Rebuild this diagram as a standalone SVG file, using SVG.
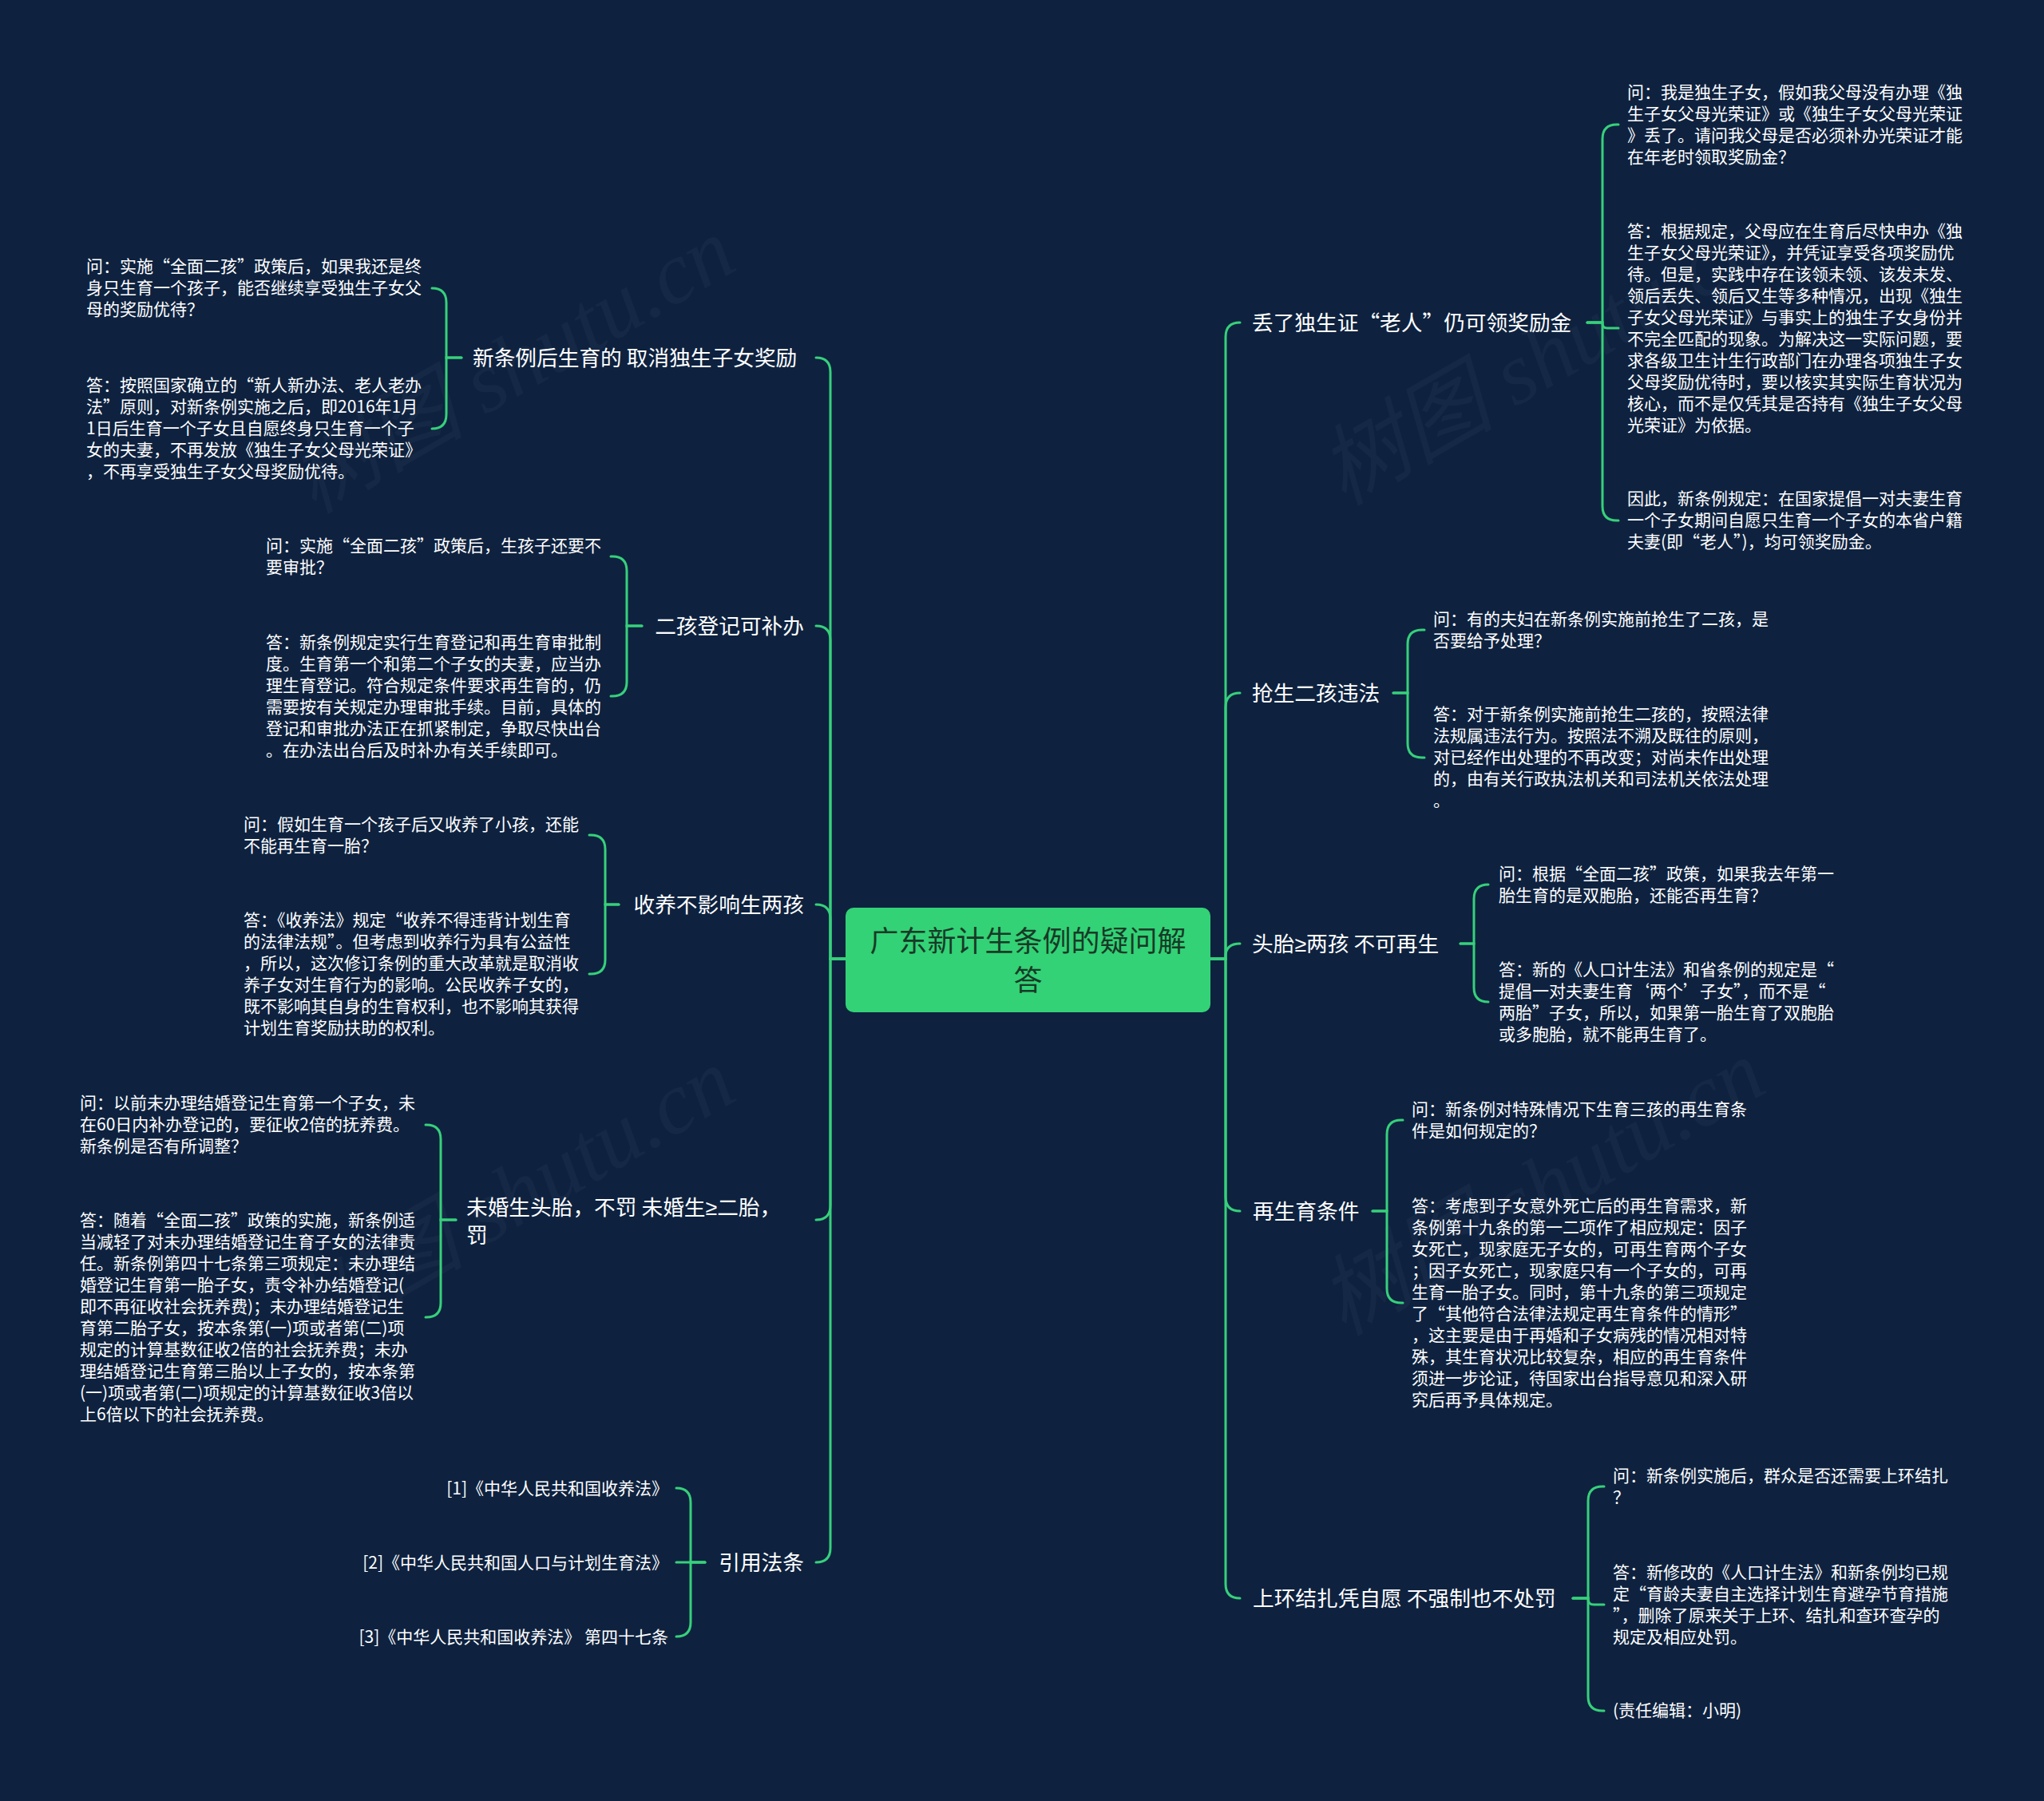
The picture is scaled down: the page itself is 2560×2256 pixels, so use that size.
<svg xmlns="http://www.w3.org/2000/svg" width="2560" height="2256" viewBox="0 0 2560 2256">
<style>
text{font-family:"Noto Sans CJK SC","Noto Sans",sans-serif;fill:#ffffff}
.leaf{font-size:21px}
.lbl{font-size:26.7px}
.rt{font-size:36px;fill:#173a26;text-anchor:middle}
.end{text-anchor:end}
.ge{font-family:"Liberation Sans","DejaVu Sans",sans-serif}
.conn path{fill:none;stroke:#37d07b;stroke-width:3;stroke-linecap:round}
.wm{font-family:"Liberation Serif","Noto Sans CJK SC",serif;font-style:italic;font-size:110px;fill:#ffffff;fill-opacity:0.03}
</style>
<rect x="0" y="0" width="2560" height="2256" fill="#0e223f"/>
<g id="watermarks">
<text class="wm" x="660" y="490" text-anchor="middle" transform="rotate(-30 660 490)">树图 shutu.cn</text>
<text class="wm" x="1950" y="480" text-anchor="middle" transform="rotate(-30 1950 480)">树图 shutu.cn</text>
<text class="wm" x="660" y="1530" text-anchor="middle" transform="rotate(-30 660 1530)">树图 shutu.cn</text>
<text class="wm" x="1950" y="1520" text-anchor="middle" transform="rotate(-30 1950 1520)">树图 shutu.cn</text>
</g>
<g class="conn" id="connectors">
<path d="M1516 1201 H1535 V422 Q1535 404 1553 404"/>
<path d="M1516 1201 H1535 V886 Q1535 868 1553 868"/>
<path d="M1516 1201 H1535 V1198 Q1535 1182 1553 1182"/>
<path d="M1516 1201 H1535 V1499 Q1535 1517 1553 1517"/>
<path d="M1516 1201 H1535 V1984 Q1535 2002 1553 2002"/>
<path d="M1059 1201 H1040 V466 Q1040 448 1022 448"/>
<path d="M1059 1201 H1040 V802 Q1040 784 1022 784"/>
<path d="M1059 1201 H1040 V1151 Q1040 1133 1022 1133"/>
<path d="M1059 1201 H1040 V1510 Q1040 1528 1022 1528"/>
<path d="M1059 1201 H1040 V1939 Q1040 1957 1022 1957"/>
<path d="M1988 404 H2007 V174 Q2007 156 2025 156 H2027"/>
<path d="M1988 404 H2007 V405 Q2007 411 2013 411 H2027"/>
<path d="M1988 404 H2007 V634 Q2007 652 2025 652 H2027"/>
<path d="M1745 868 H1763 V807 Q1763 789 1781 789 H1784"/>
<path d="M1745 868 H1763 V931 Q1763 949 1781 949 H1784"/>
<path d="M1829 1182 H1846 V1126 Q1846 1108 1864 1108"/>
<path d="M1829 1182 H1846 V1237 Q1846 1255 1864 1255"/>
<path d="M1719 1517 H1737 V1421 Q1737 1403 1755 1403 H1757"/>
<path d="M1719 1517 H1737 V1614 Q1737 1632 1755 1632 H1757"/>
<path d="M1970 2002 H1989 V1880 Q1989 1862 2007 1862 H2009"/>
<path d="M1970 2002 H1989 V2003 Q1989 2010 1996 2010 H2009"/>
<path d="M1970 2002 H1989 V2125 Q1989 2143 2007 2143 H2009"/>
<path d="M578 448 H559 V379 Q559 361 541 361"/>
<path d="M578 448 H559 V519 Q559 537 541 537"/>
<path d="M804 784 H785 V715 Q785 697 767 697 H765"/>
<path d="M804 784 H785 V854 Q785 872 767 872 H765"/>
<path d="M775 1133 H758 V1064 Q758 1046 740 1046 H738"/>
<path d="M775 1133 H758 V1202 Q758 1220 740 1220 H738"/>
<path d="M571 1528 H552 V1427 Q552 1409 534 1409 H533"/>
<path d="M571 1528 H552 V1632 Q552 1650 534 1650 H533"/>
<path d="M883 1957 H865 V1882 Q865 1864 847 1864"/>
<path d="M883 1957 H847"/>
<path d="M883 1957 H865 V2032 Q865 2050 847 2050"/>
</g>
<g id="root">
<rect x="1059" y="1137" width="457" height="131" rx="10" fill="#33d276"/>
<text class="rt" x="1287.5" y="1192">广东新计生条例的疑问解</text>
<text class="rt" x="1287.5" y="1241">答</text>
</g>
<g id="r1"><text class="lbl" x="1568" y="414">丢了独生证“老人”仍可领奖励金</text></g>
<g id="r1q"><text class="leaf" x="2038" y="123"><tspan x="2038">问：我是独生子女，假如我父母没有办理《独</tspan><tspan x="2038" dy="27">生子女父母光荣证》或《独生子女父母光荣证</tspan><tspan x="2038" dy="27">》丢了。请问我父母是否必须补办光荣证才能</tspan><tspan x="2038" dy="27">在年老时领取奖励金？</tspan></text></g>
<g id="r1a"><text class="leaf" x="2038" y="297"><tspan x="2038">答：根据规定，父母应在生育后尽快申办《独</tspan><tspan x="2038" dy="27">生子女父母光荣证》，并凭证享受各项奖励优</tspan><tspan x="2038" dy="27">待。但是，实践中存在该领未领、该发未发、</tspan><tspan x="2038" dy="27">领后丢失、领后又生等多种情况，出现《独生</tspan><tspan x="2038" dy="27">子女父母光荣证》与事实上的独生子女身份并</tspan><tspan x="2038" dy="27">不完全匹配的现象。为解决这一实际问题，要</tspan><tspan x="2038" dy="27">求各级卫生计生行政部门在办理各项独生子女</tspan><tspan x="2038" dy="27">父母奖励优待时，要以核实其实际生育状况为</tspan><tspan x="2038" dy="27">核心，而不是仅凭其是否持有《独生子女父母</tspan><tspan x="2038" dy="27">光荣证》为依据。</tspan></text></g>
<g id="r1c"><text class="leaf" x="2038" y="632"><tspan x="2038">因此，新条例规定：在国家提倡一对夫妻生育</tspan><tspan x="2038" dy="27">一个子女期间自愿只生育一个子女的本省户籍</tspan><tspan x="2038" dy="27">夫妻(即“老人”)，均可领奖励金。</tspan></text></g>
<g id="r2"><text class="lbl" x="1568" y="878">抢生二孩违法</text></g>
<g id="r2q"><text class="leaf" x="1795" y="783"><tspan x="1795">问：有的夫妇在新条例实施前抢生了二孩，是</tspan><tspan x="1795" dy="27">否要给予处理？</tspan></text></g>
<g id="r2a"><text class="leaf" x="1795" y="902"><tspan x="1795">答：对于新条例实施前抢生二孩的，按照法律</tspan><tspan x="1795" dy="27">法规属违法行为。按照法不溯及既往的原则，</tspan><tspan x="1795" dy="27">对已经作出处理的不再改变；对尚未作出处理</tspan><tspan x="1795" dy="27">的，由有关行政执法机关和司法机关依法处理</tspan><tspan x="1795" dy="27">。</tspan></text></g>
<g id="r3"><text class="lbl" x="1568" y="1192">头胎<tspan class="ge">≥</tspan>两孩 不可再生</text></g>
<g id="r3q"><text class="leaf" x="1877" y="1102"><tspan x="1877">问：根据“全面二孩”政策，如果我去年第一</tspan><tspan x="1877" dy="27">胎生育的是双胞胎，还能否再生育？</tspan></text></g>
<g id="r3a"><text class="leaf" x="1877" y="1222"><tspan x="1877">答：新的《人口计生法》和省条例的规定是“</tspan><tspan x="1877" dy="27">提倡一对夫妻生育‘两个’子女”，而不是“</tspan><tspan x="1877" dy="27">两胎”子女，所以，如果第一胎生育了双胞胎</tspan><tspan x="1877" dy="27">或多胞胎，就不能再生育了。</tspan></text></g>
<g id="r4"><text class="lbl" x="1569" y="1527">再生育条件</text></g>
<g id="r4q"><text class="leaf" x="1768" y="1397"><tspan x="1768">问：新条例对特殊情况下生育三孩的再生育条</tspan><tspan x="1768" dy="27">件是如何规定的？</tspan></text></g>
<g id="r4a"><text class="leaf" x="1768" y="1518"><tspan x="1768">答：考虑到子女意外死亡后的再生育需求，新</tspan><tspan x="1768" dy="27">条例第十九条的第一二项作了相应规定：因子</tspan><tspan x="1768" dy="27">女死亡，现家庭无子女的，可再生育两个子女</tspan><tspan x="1768" dy="27">；因子女死亡，现家庭只有一个子女的，可再</tspan><tspan x="1768" dy="27">生育一胎子女。同时，第十九条的第三项规定</tspan><tspan x="1768" dy="27">了“其他符合法律法规定再生育条件的情形”</tspan><tspan x="1768" dy="27">，这主要是由于再婚和子女病残的情况相对特</tspan><tspan x="1768" dy="27">殊，其生育状况比较复杂，相应的再生育条件</tspan><tspan x="1768" dy="27">须进一步论证，待国家出台指导意见和深入研</tspan><tspan x="1768" dy="27">究后再予具体规定。</tspan></text></g>
<g id="r5"><text class="lbl" x="1569" y="2012">上环结扎凭自愿 不强制也不处罚</text></g>
<g id="r5q"><text class="leaf" x="2020" y="1856"><tspan x="2020">问：新条例实施后，群众是否还需要上环结扎</tspan><tspan x="2020" dy="27">？</tspan></text></g>
<g id="r5a"><text class="leaf" x="2020" y="1977"><tspan x="2020">答：新修改的《人口计生法》和新条例均已规</tspan><tspan x="2020" dy="27">定“育龄夫妻自主选择计划生育避孕节育措施</tspan><tspan x="2020" dy="27">”，删除了原来关于上环、结扎和查环查孕的</tspan><tspan x="2020" dy="27">规定及相应处罚。</tspan></text></g>
<g id="r5c"><text class="leaf" x="2020" y="2150">(责任编辑：小明)</text></g>
<g id="l1"><text class="lbl" x="592" y="458">新条例后生育的 取消独生子女奖励</text></g>
<g id="l1q"><text class="leaf" x="108" y="341"><tspan x="108">问：实施“全面二孩”政策后，如果我还是终</tspan><tspan x="108" dy="27">身只生育一个孩子，能否继续享受独生子女父</tspan><tspan x="108" dy="27">母的奖励优待？</tspan></text></g>
<g id="l1a"><text class="leaf" x="108" y="490"><tspan x="108">答：按照国家确立的“新人新办法、老人老办</tspan><tspan x="108" dy="27">法”原则，对新条例实施之后，即2016年1月</tspan><tspan x="108" dy="27">1日后生育一个子女且自愿终身只生育一个子</tspan><tspan x="108" dy="27">女的夫妻，不再发放《独生子女父母光荣证》</tspan><tspan x="108" dy="27">，不再享受独生子女父母奖励优待。</tspan></text></g>
<g id="l2"><text class="lbl end" x="1007" y="794">二孩登记可补办</text></g>
<g id="l2q"><text class="leaf" x="333" y="691"><tspan x="333">问：实施“全面二孩”政策后，生孩子还要不</tspan><tspan x="333" dy="27">要审批？</tspan></text></g>
<g id="l2a"><text class="leaf" x="333" y="812"><tspan x="333">答：新条例规定实行生育登记和再生育审批制</tspan><tspan x="333" dy="27">度。生育第一个和第二个子女的夫妻，应当办</tspan><tspan x="333" dy="27">理生育登记。符合规定条件要求再生育的，仍</tspan><tspan x="333" dy="27">需要按有关规定办理审批手续。目前，具体的</tspan><tspan x="333" dy="27">登记和审批办法正在抓紧制定，争取尽快出台</tspan><tspan x="333" dy="27">。在办法出台后及时补办有关手续即可。</tspan></text></g>
<g id="l3"><text class="lbl end" x="1007" y="1143">收养不影响生两孩</text></g>
<g id="l3q"><text class="leaf" x="305" y="1040"><tspan x="305">问：假如生育一个孩子后又收养了小孩，还能</tspan><tspan x="305" dy="27">不能再生育一胎？</tspan></text></g>
<g id="l3a"><text class="leaf" x="305" y="1160"><tspan x="305">答：《收养法》规定“收养不得违背计划生育</tspan><tspan x="305" dy="27">的法律法规”。但考虑到收养行为具有公益性</tspan><tspan x="305" dy="27">，所以，这次修订条例的重大改革就是取消收</tspan><tspan x="305" dy="27">养子女对生育行为的影响。公民收养子女的，</tspan><tspan x="305" dy="27">既不影响其自身的生育权利，也不影响其获得</tspan><tspan x="305" dy="27">计划生育奖励扶助的权利。</tspan></text></g>
<g id="l4"><text class="lbl" x="584" y="1522"><tspan x="584">未婚生头胎，不罚 未婚生<tspan class="ge">≥</tspan>二胎，</tspan><tspan x="584" dy="35">罚</tspan></text></g>
<g id="l4q"><text class="leaf" x="100" y="1389"><tspan x="100">问：以前未办理结婚登记生育第一个子女，未</tspan><tspan x="100" dy="27">在60日内补办登记的，要征收2倍的抚养费。</tspan><tspan x="100" dy="27">新条例是否有所调整？</tspan></text></g>
<g id="l4a"><text class="leaf" x="100" y="1536"><tspan x="100">答：随着“全面二孩”政策的实施，新条例适</tspan><tspan x="100" dy="27">当减轻了对未办理结婚登记生育子女的法律责</tspan><tspan x="100" dy="27">任。新条例第四十七条第三项规定：未办理结</tspan><tspan x="100" dy="27">婚登记生育第一胎子女，责令补办结婚登记(</tspan><tspan x="100" dy="27">即不再征收社会抚养费)；未办理结婚登记生</tspan><tspan x="100" dy="27">育第二胎子女，按本条第(一)项或者第(二)项</tspan><tspan x="100" dy="27">规定的计算基数征收2倍的社会抚养费；未办</tspan><tspan x="100" dy="27">理结婚登记生育第三胎以上子女的，按本条第</tspan><tspan x="100" dy="27">(一)项或者第(二)项规定的计算基数征收3倍以</tspan><tspan x="100" dy="27">上6倍以下的社会抚养费。</tspan></text></g>
<g id="l5"><text class="lbl end" x="1007" y="1967">引用法条</text></g>
<g id="l5a"><text class="leaf end" x="837" y="1872">[1]《中华人民共和国收养法》</text></g>
<g id="l5b"><text class="leaf end" x="837" y="1965">[2]《中华人民共和国人口与计划生育法》</text></g>
<g id="l5c"><text class="leaf end" x="837" y="2058">[3]《中华人民共和国收养法》 第四十七条</text></g>
</svg>
